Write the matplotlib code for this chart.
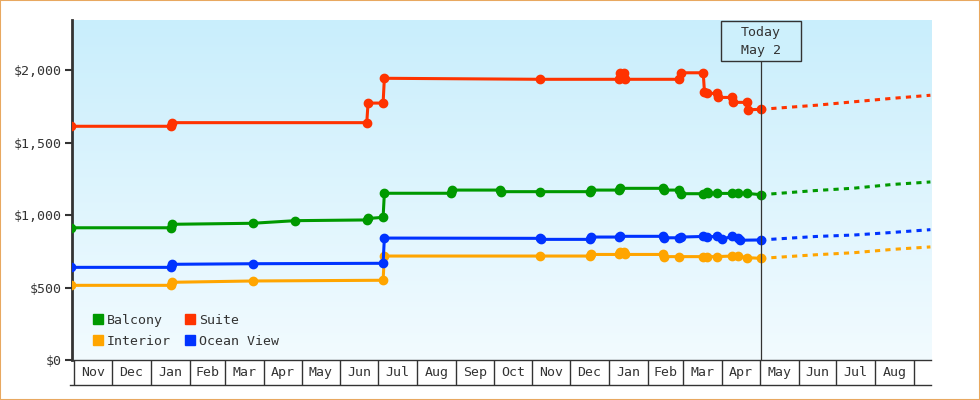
import numpy as np
import pandas as pd
import matplotlib
matplotlib.use("Agg")
import matplotlib.pyplot as plt
import matplotlib.dates as mdates
from matplotlib.patches import Patch, Rectangle
from matplotlib.transforms import blended_transform_factory

# Preise je Kabinenkategorie (Datum, Preis)
suite_dates = ["2016-10-29", "2017-01-17", "2017-01-18", "2017-06-22", "2017-06-23", "2017-07-05",
               "2017-07-06", "2017-11-07", "2018-01-09", "2018-01-10", "2018-01-13", "2018-01-14",
               "2018-02-26", "2018-02-27", "2018-03-17", "2018-03-18", "2018-03-20", "2018-03-28",
               "2018-03-29", "2018-04-09", "2018-04-10", "2018-04-21", "2018-04-22", "2018-05-02"]
suite_prices = [1612, 1612, 1637, 1637, 1772, 1772,
                1943, 1936, 1936, 1977, 1977, 1936,
                1936, 1981, 1981, 1850, 1839, 1839,
                1811, 1811, 1777, 1777, 1726, 1729]

balcony_dates = ["2016-10-29", "2017-01-17", "2017-01-18", "2017-03-23", "2017-04-26", "2017-06-22",
                 "2017-06-23", "2017-07-05", "2017-07-06", "2017-08-28", "2017-08-29", "2017-10-06",
                 "2017-10-07", "2017-11-07", "2017-12-17", "2017-12-18", "2018-01-09", "2018-01-10",
                 "2018-02-13", "2018-02-14", "2018-02-26", "2018-02-27", "2018-03-17", "2018-03-20",
                 "2018-03-21", "2018-03-28", "2018-04-09", "2018-04-14", "2018-04-21", "2018-05-02"]
balcony_prices = [912, 912, 936, 943, 961, 966,
                  976, 984, 1150, 1150, 1172, 1172,
                  1161, 1161, 1161, 1172, 1172, 1184,
                  1184, 1172, 1172, 1147, 1147, 1157,
                  1149, 1149, 1149, 1149, 1149, 1140]

ocean_dates = ["2016-10-29", "2017-01-17", "2017-01-18", "2017-03-23", "2017-07-05", "2017-07-06",
               "2017-11-07", "2017-11-08", "2017-12-17", "2017-12-18", "2018-01-09", "2018-01-10",
               "2018-02-13", "2018-02-14", "2018-02-26", "2018-02-27", "2018-03-17", "2018-03-20",
               "2018-03-28", "2018-04-01", "2018-04-09", "2018-04-14", "2018-04-15", "2018-05-02"]
ocean_prices = [639, 639, 660, 664, 667, 841,
                839, 832, 832, 848, 848, 853,
                853, 843, 843, 848, 852, 850,
                852, 834, 852, 839, 826, 828]

interior_dates = ["2016-10-29", "2017-01-17", "2017-01-18", "2017-03-23", "2017-07-05", "2017-07-06",
                  "2017-11-07", "2017-12-17", "2017-12-18", "2018-01-09", "2018-01-10", "2018-01-13",
                  "2018-01-14", "2018-02-13", "2018-02-14", "2018-02-26", "2018-03-17", "2018-03-20",
                  "2018-03-28", "2018-04-09", "2018-04-14", "2018-04-21", "2018-05-02"]
interior_prices = [515, 515, 536, 545, 550, 717,
                   717, 717, 728, 728, 743, 743,
                   728, 728, 713, 713, 713, 713,
                   713, 717, 717, 706, 701]

# Prognose (gestrichelt)
forecast_dates = ["2018-05-02", "2018-06-15", "2018-07-15", "2018-08-15", "2018-09-14"]
suite_forecast = [1729, 1757, 1781, 1805, 1826]
balcony_forecast = [1140, 1169, 1185, 1211, 1228]
ocean_forecast = [828, 852, 862, 880, 899]
interior_forecast = [701, 726, 740, 763, 780]

month_labels = ["Nov", "Dec", "Jan", "Feb", "Mar", "Apr", "May", "Jun", "Jul", "Aug", "Sep", "Oct",
                "Nov", "Dec", "Jan", "Feb", "Mar", "Apr", "May", "Jun", "Jul", "Aug"]
today = "2018-05-02"

plt.rcParams['font.family'] = ['DejaVu Sans Mono']
txtcol = '#333333'

fig = plt.figure(figsize=(9.8, 4.0), dpi=100)
ax = fig.add_axes([72 / 980, 40 / 400, 859 / 980, 340 / 400])

# Hintergrund mit Farbverlauf
grad = np.linspace(0, 1, 256).reshape(-1, 1)
cmap = matplotlib.colors.LinearSegmentedColormap.from_list('bg', ['#c9eefc', '#f2fbff'])
ax.imshow(grad, cmap=cmap, aspect='auto', extent=[0, 1, 0, 1], transform=ax.transAxes, zorder=0)

series = [
    ("Interior", interior_dates, interior_prices, interior_forecast, '#ffa500'),
    ("Ocean View", ocean_dates, ocean_prices, ocean_forecast, '#0033ff'),
    ("Balcony", balcony_dates, balcony_prices, balcony_forecast, '#009900'),
    ("Suite", suite_dates, suite_prices, suite_forecast, '#ff3300'),
]
for name, d, p, fc, col in series:
    ax.plot(pd.to_datetime(d), p, color=col, lw=2.2, marker='o', ms=6, zorder=3)
    ax.plot(pd.to_datetime(forecast_dates), fc, color=col, lw=2.2, ls=(0, (1.7, 1.7)), zorder=3)

start = mdates.date2num(pd.Timestamp("2016-11-01")) - 1.83
ax.set_xlim(start, start + 859 / 1.2553)
ax.set_ylim(0, 2345)

# Heute-Linie und Box
tnum = mdates.date2num(pd.Timestamp(today))
trans = blended_transform_factory(ax.transData, ax.transAxes)
ax.plot([tnum, tnum], [0, 0.880], color=txtcol, lw=0.9, transform=trans, zorder=4)
ax.add_patch(Rectangle((tnum - 31.9, 0.880), 63.8, 0.118, transform=trans, fc='#cdf0fc',
                       ec=txtcol, lw=1, zorder=5))
ax.text(tnum, 0.937, "Today\nMay 2", transform=trans, ha='center', va='center',
        fontsize=9.5, color=txtcol, linespacing=1.45, zorder=6)

# Achsen
for s in ['top', 'right']:
    ax.spines[s].set_visible(False)
ax.spines['left'].set_linewidth(2)
ax.spines['left'].set_color(txtcol)
ax.spines['bottom'].set_linewidth(1)
ax.spines['bottom'].set_color(txtcol)
ax.set_yticks([0, 500, 1000, 1500, 2000])
ax.set_yticklabels(["$0", "$500", "$1,000", "$1,500", "$2,000"])
ax.tick_params(axis='y', length=5, width=1.5, color=txtcol, labelcolor=txtcol, labelsize=9.5, pad=2.5)
ax.set_xticks([])

# Monatszellen unter der Achse
xt = ax.get_xaxis_transform()
bounds = pd.date_range("2016-11-01", "2018-09-01", freq="MS")
bnum = mdates.date2num(bounds)
cell_h = 25 / 340
ax.vlines(bnum, -cell_h, 0, colors=txtcol, lw=1, transform=xt, clip_on=False)
ax.plot([start - 1.6, start + 859 / 1.2553], [-cell_h, -cell_h], color=txtcol, lw=1,
        transform=xt, clip_on=False)
for i, lab in enumerate(month_labels):
    ax.text((bnum[i] + bnum[i + 1]) / 2, -cell_h / 2, lab, transform=xt, ha='center', va='center',
            fontsize=9.5, color=txtcol)

# Legende
handles = [Patch(color='#009900', label='Balcony'), Patch(color='#ffa500', label='Interior'),
           Patch(color='#ff3300', label='Suite'), Patch(color='#0033ff', label='Ocean View')]
leg = ax.legend(handles=handles, ncol=2, loc='lower left', bbox_to_anchor=(0.024, 0.036),
                frameon=False, fontsize=9.5, handlelength=0.75, handleheight=0.75,
                handletextpad=0.3, columnspacing=1.1, labelspacing=0.6, borderpad=0,
                borderaxespad=0)
for t in leg.get_texts():
    t.set_color(txtcol)

fig.patches.append(Rectangle((0, 0), 1, 1, transform=fig.transFigure, fill=False,
                             ec='#e8a860', lw=1.5))

fig.savefig("out.png", dpi=100)
